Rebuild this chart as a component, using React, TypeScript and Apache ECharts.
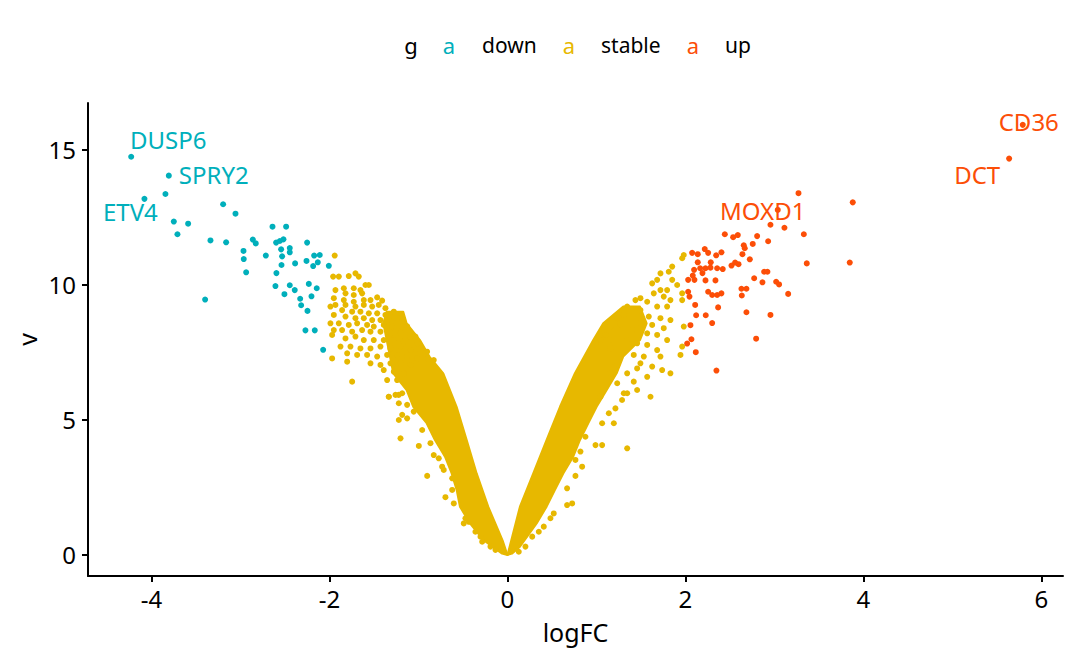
import React, { useEffect, useRef } from "react";
import * as echarts from "echarts";

// ---------- data ----------
const xTicks = [-4, -2, 0, 2, 4, 6];
const yTicks = [0, 5, 10, 15];
const groupNames = ["down", "stable", "up"];
const groupColors = ["#00AFBB", "#E7B800", "#FC4E07"];

const downPoints: number[][] = [
  [-4.228, 14.75], [-3.805, 14.05], [-4.079, 13.19], [-3.843, 13.37], [-3.195, 12.99], [-3.056, 12.64],
  [-3.749, 12.35], [-3.588, 12.27], [-3.708, 11.88], [-3.337, 11.65], [-3.161, 11.58], [-2.64, 12.16],
  [-2.487, 12.16], [-2.861, 11.68], [-2.828, 11.54], [-2.966, 11.26], [-2.963, 10.96], [-2.936, 10.47],
  [-2.599, 11.57], [-2.558, 11.63], [-2.517, 11.69], [-2.543, 11.32], [-2.446, 11.37], [-2.446, 11.21],
  [-2.715, 11.09], [-2.532, 11.06], [-2.539, 10.74], [-2.596, 10.44], [-2.386, 10.8], [-2.251, 11.57],
  [-2.172, 11.09], [-2.109, 11.11], [-2.258, 10.89], [-2.131, 10.84], [-2.183, 10.7], [-2.007, 10.71],
  [-2.607, 9.96], [-2.446, 9.99], [-2.506, 9.66], [-2.39, 9.81], [-2.232, 10.04], [-2.143, 9.88],
  [-2.202, 9.58], [-2.329, 9.49], [-2.318, 9.25], [-2.247, 9.04], [-3.397, 9.46], [-2.27, 8.32],
  [-2.165, 8.32], [-2.071, 7.6],
];

const upPoints: number[][] = [
  [5.79, 15.93], [5.637, 14.68], [3.27, 13.4], [3.88, 13.06], [3.037, 12.78], [2.955, 12.23], [3.112, 12.12],
  [3.33, 11.88], [2.442, 11.88], [2.536, 11.77], [2.588, 11.85], [2.805, 11.81], [2.756, 11.52], [2.929, 11.62],
  [2.655, 11.47], [2.666, 11.36], [2.075, 11.19], [2.138, 11.14], [2.217, 11.33], [2.255, 11.19], [2.345, 11.1],
  [2.404, 11.21], [2.64, 11.14], [2.723, 10.95], [3.363, 10.8], [3.846, 10.83], [2.138, 10.84], [2.284, 10.84],
  [2.097, 10.56], [2.165, 10.62], [2.225, 10.62], [2.281, 10.64], [2.356, 10.62], [2.419, 10.59], [2.191, 10.44],
  [2.082, 10.35], [2.517, 10.72], [2.558, 10.83], [2.596, 10.77], [2.884, 10.49], [2.921, 10.49], [2.03, 10.19],
  [2.101, 10.19], [2.225, 10.17], [2.337, 10.17], [2.772, 10.25], [2.865, 10.1], [3.019, 10.12], [3.052, 10.02],
  [2.629, 9.86], [2.685, 9.86], [2.633, 9.61], [3.154, 9.67], [2.03, 9.75], [2.045, 9.57], [2.255, 9.75],
  [2.3, 9.63], [2.356, 9.63], [2.404, 9.69], [2.109, 9.26], [2.367, 9.17], [2.12, 8.88], [2.228, 8.88],
  [2.3, 8.59], [2.685, 8.99], [2.955, 8.89], [2.056, 8.51], [2.067, 7.99], [2.019, 7.83], [2.116, 7.51],
  [2.794, 8.01], [2.348, 6.83],
];

const stablePoints: number[][] = [
  // left arm, upper sparse part
  [-1.941, 11.09], [-1.959, 10.31], [-1.895, 10.31], [-1.783, 10.33], [-1.708, 10.43], [-1.671, 10.31],
  [-1.596, 10.0], [-1.558, 10.0], [-1.839, 9.88], [-1.727, 9.88], [-1.652, 9.81], [-1.933, 9.81],
  [-1.82, 9.69], [-1.727, 9.63], [-1.633, 9.69], [-1.951, 9.51], [-1.839, 9.44], [-1.727, 9.38],
  [-1.614, 9.44], [-1.539, 9.44], [-1.464, 9.54], [-1.408, 9.42], [-1.933, 9.26], [-1.989, 9.2],
  [-1.82, 9.26], [-1.708, 9.2], [-1.614, 9.26], [-1.52, 9.2], [-1.446, 9.26], [-1.371, 9.14],
  [-1.277, 9.01], [-1.858, 9.07], [-1.745, 9.01], [-1.652, 9.01], [-1.558, 8.95], [-1.464, 8.95],
  [-1.371, 8.89], [-1.951, 8.89], [-1.82, 8.83], [-1.708, 8.77], [-1.614, 8.77], [-1.52, 8.7],
  [-1.427, 8.7], [-1.334, 8.7], [-1.24, 8.77], [-1.989, 8.58], [-1.895, 8.58], [-1.783, 8.52],
  [-1.689, 8.58], [-1.577, 8.52], [-1.502, 8.46], [-1.39, 8.52], [-1.296, 8.46], [-1.184, 8.46],
  [-1.127, 8.47], [-1.951, 8.33], [-1.858, 8.33], [-1.745, 8.27], [-1.633, 8.33], [-1.539, 8.27],
  [-1.427, 8.27], [-1.315, 8.21], [-1.202, 8.21], [-1.09, 8.09], [-1.034, 8.09], [-1.97, 8.15],
  [-1.82, 8.02], [-1.708, 8.09], [-1.614, 7.96], [-1.502, 7.96], [-1.39, 7.96], [-1.277, 7.96],
  [-1.165, 7.9], [-1.015, 7.84], [-1.876, 7.72], [-1.764, 7.72], [-1.652, 7.65], [-1.539, 7.65],
  [-1.427, 7.72], [-1.315, 7.65], [-1.202, 7.72], [-1.09, 7.59], [-0.978, 7.59], [-0.903, 7.53],
  [-1.801, 7.47], [-1.689, 7.41], [-1.577, 7.41], [-1.464, 7.35], [-1.352, 7.41], [-1.24, 7.41],
  [-1.127, 7.35], [-1.015, 7.28], [-0.903, 7.28], [-0.828, 7.22], [-1.97, 7.28], [-1.801, 7.16],
  [-1.539, 7.1], [-1.427, 7.04], [-1.315, 7.1], [-1.202, 7.1], [-1.09, 7.04], [-1.39, 6.85],
  [-1.277, 6.79], [-1.165, 6.73], [-1.745, 6.42], [-1.352, 6.48], [-1.24, 6.48], [-1.334, 5.86],
  [-1.222, 5.93],
  // left arm, outer fringe
  [-1.333, 5.86], [-1.258, 5.93], [-1.183, 5.99], [-1.221, 5.62], [-1.127, 5.56], [-1.053, 5.31],
  [-1.183, 5.19], [-1.127, 5.06], [-1.221, 5.0], [-0.958, 4.63], [-1.202, 4.32], [-0.996, 4.04],
  [-0.865, 4.14], [-0.828, 3.7], [-0.772, 3.58], [-0.716, 3.15], [-0.734, 3.27], [-0.902, 2.93],
  [-0.621, 2.84], [-0.621, 2.41], [-0.697, 2.14], [-0.603, 1.91], [-0.472, 1.36], [-0.434, 1.23],
  [-0.491, 1.17], [-0.36, 0.86], [-0.303, 0.68], [-0.284, 0.49], [-0.191, 0.31], [-0.135, 0.19],
  // right arm, upper sparse part
  [1.981, 11.11], [1.963, 10.99], [1.851, 10.68], [1.812, 10.49], [1.719, 10.43], [1.682, 10.19],
  [1.626, 10.06], [1.851, 10.19], [1.907, 10.0], [1.963, 9.69], [1.794, 9.81], [1.719, 9.81],
  [1.644, 9.69], [1.494, 9.51], [1.438, 9.44], [1.57, 9.38], [1.756, 9.57], [1.831, 9.44],
  [1.963, 9.44], [1.682, 9.2], [1.794, 9.2], [1.345, 9.2], [1.401, 9.07], [1.494, 9.07],
  [1.307, 8.89], [1.233, 8.77], [1.588, 8.83], [1.719, 8.77], [1.831, 8.7], [1.494, 8.58],
  [1.626, 8.52], [1.756, 8.4], [1.981, 8.46], [1.157, 8.46], [1.27, 8.52], [1.401, 8.33],
  [1.57, 8.21], [1.682, 8.15], [1.794, 7.96], [1.963, 7.72], [1.101, 8.15], [1.045, 7.96],
  [1.176, 7.96], [1.345, 7.96], [1.457, 7.84], [1.57, 7.78], [1.682, 7.59], [1.944, 7.41],
  [1.008, 7.72], [1.157, 7.65], [1.27, 7.47], [1.419, 7.41], [1.532, 7.35], [1.719, 7.35],
  [1.494, 7.1], [1.626, 6.98], [1.831, 6.73], [1.738, 6.85], [1.457, 6.91], [1.345, 6.73],
  [1.57, 6.6], [1.419, 6.42], [1.233, 6.36], [1.457, 6.11], [1.345, 5.99], [1.607, 5.86],
  [1.045, 5.86], [1.213, 6.98], [1.157, 6.73],
  // right arm, outer fringe
  [1.307, 5.99], [1.288, 5.74], [1.213, 5.43], [1.139, 5.25], [1.195, 4.88], [1.064, 4.88],
  [0.989, 4.07], [1.064, 4.07], [1.345, 3.95], [0.876, 4.38], [0.82, 3.83], [0.764, 3.52],
  [0.839, 3.27], [0.764, 2.93], [0.67, 2.47], [0.727, 1.91], [0.67, 1.85], [0.52, 1.54],
  [0.483, 1.36], [0.408, 1.05], [0.352, 0.86], [0.278, 0.68], [0.202, 0.31], [0.127, 0.12],
];

// dense cores of the stable cloud (outline of the region where points overlap into a solid mass)
const stableCoreLeft: number[][] = [
  [0, 0], [-0.06, 0.05], [-0.272, 0.56], [-0.421, 1.17], [-0.534, 1.79], [-0.571, 2.41], [-0.627, 3.02],
  [-0.702, 3.64], [-0.815, 4.26], [-0.908, 4.88], [-1.058, 5.49], [-1.133, 6.11], [-1.283, 6.73],
  [-1.32, 7.35], [-1.357, 7.96], [-1.395, 8.58], [-1.357, 9.01], [-1.171, 9.01], [-1.133, 8.58],
  [-0.983, 7.96], [-0.876, 7.35], [-0.721, 6.73], [-0.571, 5.49], [-0.458, 4.26], [-0.346, 3.02],
  [-0.216, 1.79], [-0.05, 0.5],
];
const stableCoreRight: number[][] = [
  [0, 0], [0.14, 1.79], [0.29, 3.02], [0.44, 4.26], [0.59, 5.49], [0.758, 6.73], [0.964, 7.96],
  [1.076, 8.58], [1.301, 9.2], [1.489, 9.2], [1.564, 8.58], [1.489, 7.96], [1.301, 7.35], [1.227, 6.73],
  [1.115, 6.11], [1.002, 5.49], [0.908, 4.88], [0.815, 4.26], [0.739, 3.64], [0.627, 3.02], [0.534, 2.41],
  [0.44, 1.79], [0.328, 1.17], [0.14, 0.31], [0.05, 0.05],
];

const geneNames = ["DUSP6", "SPRY2", "ETV4", "MOXD1", "DCT", "CD36"];
const geneX = [-4.228, -3.805, -4.079, 3.037, 5.637, 5.79];
const geneY = [14.75, 14.05, 13.19, 12.78, 14.68, 15.93];
const geneGroup = [0, 0, 0, 2, 2, 2];

// ---------- styling ----------
const FONT = "'Noto Sans', 'DejaVu Sans', sans-serif";
const POINT = 6;
const labelOffsets: number[][] = [[37, -17], [45, -1], [-14, 13], [-15, 1], [-32, 16], [6, -3]];
const legendItems = [
  { key: 449, text: 482 },
  { key: 569, text: 601 },
  { key: 693, text: 725 },
];

export default function App() {
  const ref = useRef<HTMLDivElement>(null);

  useEffect(() => {
    document.body.style.margin = "0";
    if (!ref.current) return;
    const chart = echarts.init(ref.current, undefined, { renderer: "svg" });

    const cores = [stableCoreLeft, stableCoreRight];

    const legendGraphics: any[] = [
      {
        type: "text", x: 411, y: 45,
        style: { text: "g", fill: "#000", font: `22px ${FONT}`, textAlign: "center", textVerticalAlign: "middle" },
      },
    ];
    groupNames.forEach((g, i) => {
      legendGraphics.push({
        type: "text", x: legendItems[i].key, y: 45,
        style: { text: "a", fill: groupColors[i], font: `22px ${FONT}`, textAlign: "center", textVerticalAlign: "middle" },
      });
      legendGraphics.push({
        type: "text", x: legendItems[i].text, y: 45,
        style: { text: g, fill: "#000", font: `21px ${FONT}`, textAlign: "left", textVerticalAlign: "middle" },
      });
    });

    const pointSeries = (name: string, data: number[][], color: string) => ({
      type: "scatter",
      name,
      data,
      symbolSize: POINT,
      silent: true,
      itemStyle: { color, opacity: 1 },
    });

    const option: any = {
      animation: false,
      backgroundColor: "#fff",
      textStyle: { fontFamily: FONT },
      grid: { left: 88, right: 17, top: 103, bottom: 86, containLabel: false },
      xAxis: {
        type: "value",
        min: -4.713,
        max: 6.242,
        splitLine: { show: false },
        axisLine: { show: true, onZero: false, lineStyle: { color: "#000", width: 2 } },
        axisTick: { show: true, customValues: xTicks, length: 6, lineStyle: { color: "#000", width: 2 } },
        axisLabel: { customValues: xTicks, color: "#000", fontSize: 24, margin: 10, fontFamily: FONT },
      },
      yAxis: {
        type: "value",
        min: -0.778,
        max: 16.74,
        splitLine: { show: false },
        axisLine: { show: true, onZero: false, lineStyle: { color: "#000", width: 2 } },
        axisTick: { show: true, customValues: yTicks, length: 6, lineStyle: { color: "#000", width: 2 } },
        axisLabel: { customValues: yTicks, color: "#000", fontSize: 24, margin: 12, fontFamily: FONT },
      },
      graphic: [
        ...legendGraphics,
        {
          type: "text", x: 575.5, y: 632,
          style: { text: "logFC", fill: "#000", font: `25px ${FONT}`, textAlign: "center", textVerticalAlign: "middle" },
        },
        {
          type: "text", x: 27, y: 339.5, rotation: Math.PI / 2,
          style: { text: "v", fill: "#000", font: `25px ${FONT}`, textAlign: "center", textVerticalAlign: "middle" },
        },
      ],
      series: [
        {
          type: "custom",
          name: "stable-core",
          silent: true,
          data: cores.map((c, i) => [c[0][0], c[0][1], i]),
          encode: { x: 0, y: 1 },
          renderItem: (params: any, api: any) => {
            const poly = cores[params.dataIndex];
            const pts = poly.map((p) => api.coord(p));
            return {
              type: "polygon",
              shape: { points: pts },
              style: { fill: groupColors[1], stroke: groupColors[1], lineWidth: 2, lineJoin: "round" },
            };
          },
        },
        pointSeries("stable", stablePoints, groupColors[1]),
        pointSeries("down", downPoints, groupColors[0]),
        pointSeries("up", upPoints, groupColors[2]),
        {
          type: "scatter",
          name: "labels",
          silent: true,
          symbolSize: 0,
          itemStyle: { opacity: 1 },
          data: geneNames.map((n, i) => ({
            name: n,
            value: [geneX[i], geneY[i]],
            itemStyle: { opacity: 1 },
            label: {
              show: true,
              position: "inside",
              offset: labelOffsets[i],
              formatter: n,
              color: groupColors[geneGroup[i]],
              opacity: 1,
              fontSize: 24,
              fontFamily: FONT,
            },
          })),
        },
      ],
    };

    chart.setOption(option);
    return () => chart.dispose();
  }, []);

  return (
    <div
      ref={ref}
      style={{ position: "absolute", left: 0, top: 0, width: 1080, height: 662, background: "#fff" }}
    />
  );
}
